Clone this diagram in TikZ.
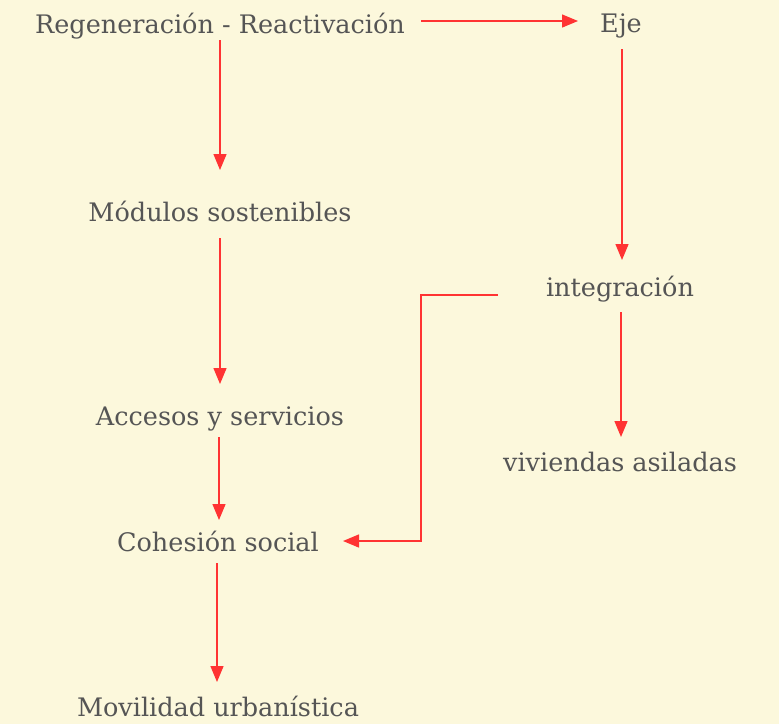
\documentclass[tikz,border=0pt]{standalone}
\usepackage{fontspec}
\setmainfont{DejaVu Serif}
\usetikzlibrary{arrows.meta}
\definecolor{bg}{HTML}{FCF8DC}
\definecolor{txt}{HTML}{555555}
\definecolor{arr}{HTML}{FF3333}
\begin{document}
\begin{tikzpicture}[x=1pt,y=-1pt,
  lbl/.style={text=txt,font=\fontsize{25.5}{28}\selectfont,inner sep=0pt,anchor=center},
  conn/.style={draw=arr,line width=1.4pt,-{Triangle[length=16pt,width=13pt]}}]
\fill[bg] (0,0) rectangle (779,724);
\useasboundingbox (0,0) rectangle (779,724);
\node[lbl] (reg) at (220,26) {Regeneración - Reactivación};
\node[lbl] (eje) at (621,26) {Eje};
\node[lbl] (mod) at (220,211) {Módulos sostenibles};
\node[lbl] (int) at (620,289) {integración};
\node[lbl] (acc) at (220,419) {Accesos y servicios};
\node[lbl] (viv) at (620,462) {viviendas asiladas};
\node[lbl] (coh) at (218,541) {Cohesión social};
\node[lbl] (mov) at (218,706) {Movilidad urbanística};
\coordinate (c1) at (421,295);
\draw[conn] (220,40) -- (220,170);
\draw[conn] (421,21) -- (578,21);
\draw[conn] (622,49) -- (622,260);
\draw[conn] (220,238) -- (220,384);
\draw[conn] (621,312) -- (621,437);
\draw[conn] (219,437) -- (219,520);
\draw[conn] (217,563) -- (217,682);
\draw[conn] (498,295) -- (c1) |- (343,541);
\end{tikzpicture}
\end{document}
